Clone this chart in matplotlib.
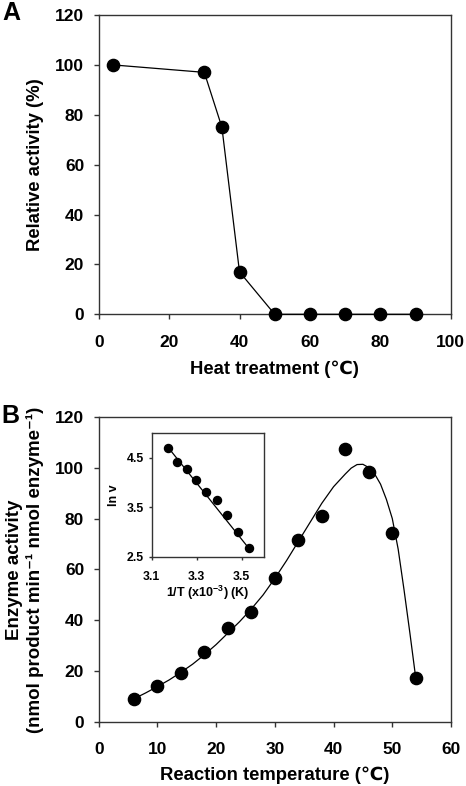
import matplotlib
matplotlib.use("Agg")
import matplotlib.pyplot as plt
from matplotlib.transforms import blended_transform_factory

plt.rcParams["font.family"] = ["Liberation Sans", "DejaVu Sans"]
plt.rcParams["font.weight"] = "bold"
plt.rcParams["mathtext.fontset"] = "custom"
plt.rcParams["mathtext.rm"] = "Liberation Sans:bold"
plt.rcParams["mathtext.default"] = "rm"

# Panel A: heat treatment
heat_temp = [4, 30, 35, 40, 50, 60, 70, 80, 90]
rel_activity = [100, 97, 75, 17, 0, 0, 0, 0, 0]

# Panel B: reaction temperature
react_temp = [6, 10, 14, 18, 22, 26, 30, 34, 38, 42, 46, 50, 54]
enz_activity = [9.2, 14.1, 19.3, 27.5, 37.0, 43.4, 56.5, 71.4, 80.8, 107.3, 98.4, 74.2, 17.3]

# fitted curve
fit_temp = [6, 8, 10, 12, 14, 16, 18, 20, 22, 24, 26, 28, 30, 32, 34, 36, 38,
            40, 42, 43, 44, 45, 46, 47, 48, 49, 50, 51, 52, 53, 54]
fit_activity = [9.2, 11.5, 14.0, 16.6, 19.6, 22.8, 26.5, 30.5, 35.0, 39.5, 44.5,
                50.0, 56.5, 63.5, 71.0, 78.5, 86.0, 92.5, 97.5, 99.8, 101.2, 101.3,
                100.0, 97.5, 93.5, 87.5, 80.0, 68.0, 52.0, 35.0, 17.3]

# Inset: Arrhenius plot
inv_t = [3.174, 3.212, 3.255, 3.297, 3.343, 3.389, 3.436, 3.482, 3.532]
ln_v = [4.70, 4.41, 4.26, 4.05, 3.80, 3.64, 3.35, 2.99, 2.67]
line_x = [3.17, 3.54]
line_y = [4.72, 2.62]

W, H = 466, 786
fig = plt.figure(figsize=(W / 100, H / 100), dpi=100)
PT = 100 / 72.0  # pixels per point


def style_axes(ax, fs, ticklen, xpad, ypad):
    for s in ax.spines.values():
        s.set_linewidth(1.0)
        s.set_color("#333333")
    ax.tick_params(direction="out", length=ticklen, width=1.0, color="#333333",
                   labelsize=fs, top=False, right=False)
    ax.tick_params(axis="x", pad=xpad)
    ax.tick_params(axis="y", pad=ypad)
    for lab in ax.get_xticklabels() + ax.get_yticklabels():
        lab.set_fontweight("bold")


def place_labels(ax, xlab_top_px, ylab_right_px=None):
    # x label: top of text at given figure pixel row
    tx = blended_transform_factory(ax.transAxes, fig.transFigure)
    ax.xaxis.set_label_coords(0.5, 1 - xlab_top_px / H, transform=tx)
    if ylab_right_px is not None:
        ty = blended_transform_factory(fig.transFigure, ax.transAxes)
        ax.yaxis.set_label_coords(ylab_right_px / W, 0.5, transform=ty)


# Panel A
axA = fig.add_axes([98.7 / W, 1 - 314.3 / H, 352 / W, 299.3 / H])
axA.plot(heat_temp, rel_activity, color="black", lw=0.9, marker="o",
         markersize=8.8, markerfacecolor="black", markeredgecolor="black",
         clip_on=False, zorder=3)
axA.set_xlim(0, 100)
axA.set_ylim(0, 120)
axA.set_xticks(range(0, 101, 20))
axA.set_yticks(range(0, 121, 20))
style_axes(axA, 12.5, 5 / PT, 15.5 / PT, 9.5 / PT)
axA.set_xlabel("Heat treatment (\u2103)", fontsize=13.3, fontweight="bold")
axA.set_ylabel("Relative activity (%)", fontsize=13.3, fontweight="bold")
place_labels(axA, 361, 44)
fig.text(2 / W, 1 - 20 / H, "A", fontsize=18, fontweight="bold", va="baseline", ha="left")

# Panel B
axB = fig.add_axes([98.7 / W, 1 - 722.2 / H, 352.3 / W, 305.5 / H])
axB.plot(fit_temp, fit_activity, color="black", lw=0.9, zorder=2)
axB.plot(react_temp, enz_activity, "o", color="black", markersize=8.8, zorder=3,
         clip_on=False)
axB.set_xlim(0, 60)
axB.set_ylim(0, 120)
axB.set_xticks(range(0, 61, 10))
axB.set_yticks(range(0, 121, 20))
style_axes(axB, 12.5, 5 / PT, 14.5 / PT, 9.5 / PT)
axB.set_xlabel("Reaction temperature (\u2103)", fontsize=13.3, fontweight="bold")
place_labels(axB, 767)
# two-line y label drawn as two rotated texts
ycen = 1 - 569.5 / H
fig.text(19 / W, ycen, "Enzyme activity", rotation=90, rotation_mode="anchor",
         ha="center", va="baseline", fontsize=13.5, fontweight="bold")
fig.text(40.5 / W, ycen, "(nmol product min\u207b\u00b9 nmol enzyme\u207b\u00b9)",
         rotation=90, rotation_mode="anchor", ha="center", va="baseline",
         fontsize=13.5, fontweight="bold")
fig.text(1 / W, 1 - 423 / H, "B", fontsize=18, fontweight="bold", va="baseline", ha="left")

# Inset
axI = fig.add_axes([151.7 / W, 1 - 556.7 / H, 112.6 / W, 124 / H])
axI.plot(line_x, line_y, color="black", lw=0.9, zorder=2)
axI.plot(inv_t, ln_v, "o", color="black", markersize=5.8, zorder=3)
axI.set_xlim(3.1, 3.6)
axI.set_ylim(2.5, 5.0)
axI.set_xticks([3.1, 3.3, 3.5])
axI.set_yticks([2.5, 3.5, 4.5])
style_axes(axI, 8.8, 3.3 / PT, 11.5 / PT, 4.7 / PT)
axI.set_xlabel("1/T (x10$^{-3}$) (K)", fontsize=9, fontweight="bold")
axI.set_ylabel("ln v", fontsize=9, fontweight="bold")
place_labels(axI, 583.5, 119.5)

fig.savefig("out.png", dpi=100)
